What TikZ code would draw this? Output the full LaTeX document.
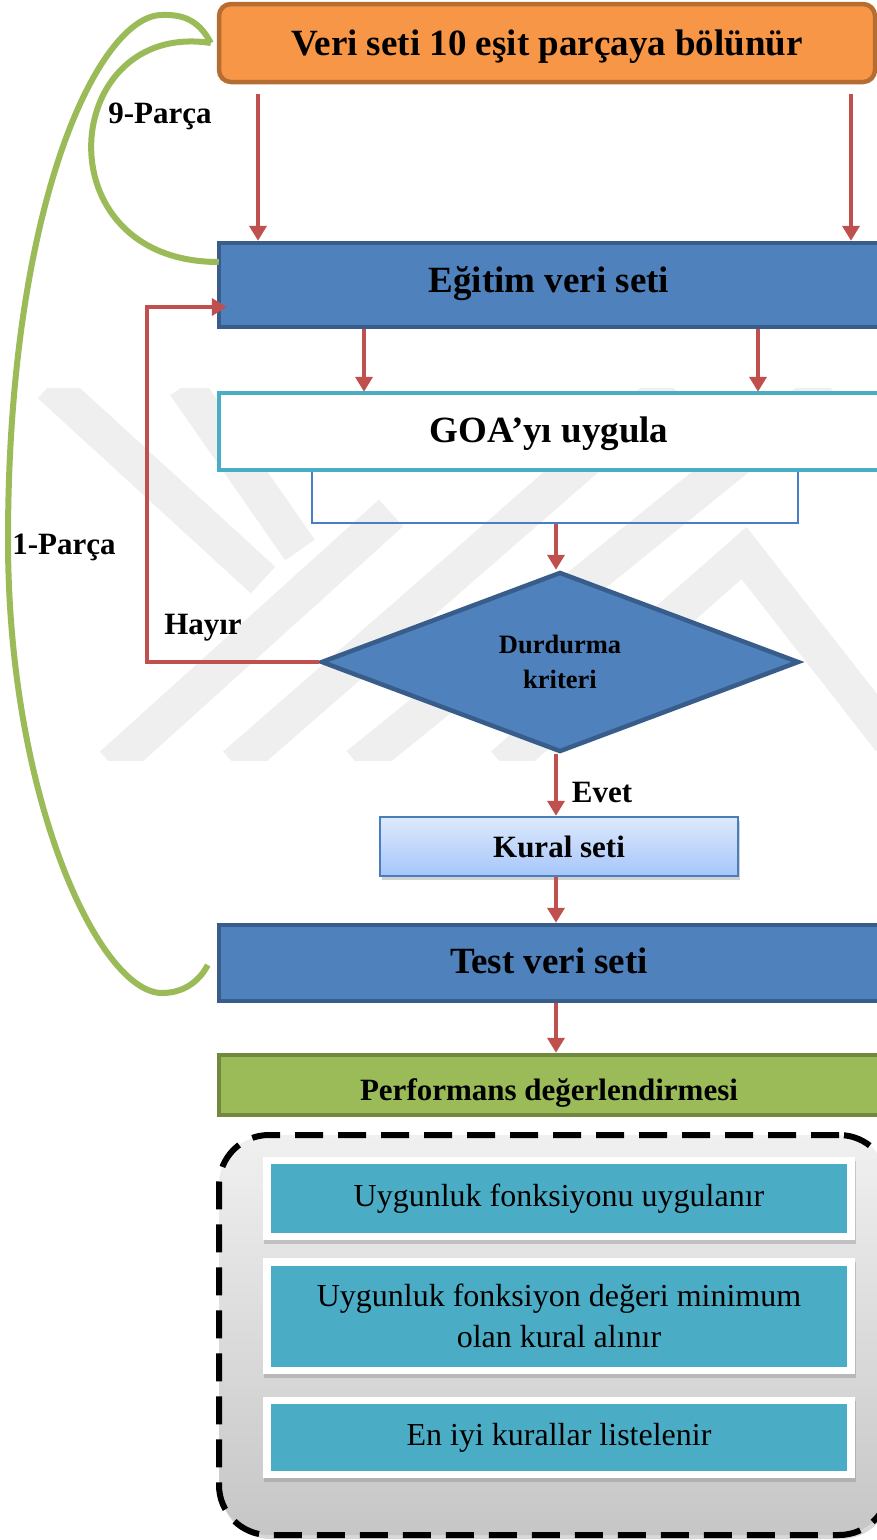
\documentclass[tikz,border=0pt]{standalone}
\usepackage{fontspec}
\setmainfont{Liberation Serif}
\usetikzlibrary{arrows.meta,shapes.geometric,shadows,calc}
\definecolor{orfill}{HTML}{F79646}
\definecolor{ordraw}{HTML}{B66D31}
\definecolor{blfill}{HTML}{4F81BD}
\definecolor{bldraw}{HTML}{385D8A}
\definecolor{grfill}{HTML}{9BBB59}
\definecolor{grdraw}{HTML}{71893F}
\definecolor{tealc}{HTML}{4BACC6}
\definecolor{arrc}{HTML}{C0504D}
\definecolor{wmark}{HTML}{EFEFEF}
\definecolor{kuraltop}{HTML}{DDE9FC}
\definecolor{kuralbot}{HTML}{A6C6FA}
\definecolor{kuraldraw}{HTML}{4A7EBB}
\definecolor{thinrect}{HTML}{4A7EC4}
\definecolor{conttop}{HTML}{F0F0F0}
\definecolor{contbot}{HTML}{C6C6C6}
\tikzset{
  bigtxt/.style={font=\fontsize{37}{40}\selectfont\bfseries,text depth=0pt},
  midtxt/.style={font=\fontsize{31}{36}\selectfont\bfseries},
  regtxt/.style={font=\fontsize{32}{41}\selectfont},
  orbox/.style={draw=ordraw,fill=orfill,line width=4.5pt,rounded corners=12pt,inner sep=0pt,bigtxt},
  blbox/.style={draw=bldraw,fill=blfill,line width=4.5pt,inner sep=0pt,bigtxt},
  goabox/.style={draw=tealc,fill=white,line width=4.5pt,inner sep=0pt,bigtxt},
  grbox/.style={draw=grdraw,fill=grfill,line width=4.5pt,inner sep=0pt,midtxt,text depth=0pt},
  kbox/.style={draw=kuraldraw,line width=2.5pt,top color=kuraltop,bottom color=kuralbot,inner sep=0pt,midtxt,text depth=0pt,
    drop shadow={shadow xshift=2pt,shadow yshift=-4pt,opacity=0.35}},
  dia/.style={diamond,draw=bldraw,fill=blfill,line width=4.5pt,inner sep=0pt,align=center,
    font=\fontsize{26.5}{35}\selectfont\bfseries},
  wbox/.style={fill=white,inner sep=0pt,drop shadow={shadow xshift=1pt,shadow yshift=-4pt,opacity=0.35}},
  tbox/.style={fill=tealc,inner sep=0pt,regtxt,align=center},
  arr/.style={draw=arrc,line width=4pt,-{Triangle[length=15pt,width=17pt]}},
  gline/.style={draw=grfill,line width=6pt},
  wm/.style={draw=wmark,line width=36pt},
  lbl/.style={midtxt,inner sep=0pt}
}
\begin{document}
\begin{tikzpicture}[x=1pt,y=-1pt]
\clip (0,0) rectangle (877,1540);
\fill[white] (0,0) rectangle (877,1540);
% watermark
\begin{scope}
\clip (0,388) rectangle (877,760);
\draw[wm] (50,385) -- (263,580);
\draw[wm] (185,385) -- (300,550);
\draw[wm] (112,765) -- (391,513);
\draw[wm] (235,765) -- (671,385);
\draw[wm] (358,765) -- (828,385);
\draw[wm] (503,765) -- (744,553) -- (890,740);
\end{scope}
% dashed container
\node[draw=black,line width=6pt,dash pattern=on 28pt off 15pt,rounded corners=50pt,
  top color=conttop,bottom color=contbot,minimum width=670pt,minimum height=400pt,
  drop shadow={shadow xshift=2pt,shadow yshift=-4pt,opacity=0.3}] (cont) at (554,1335) {};
% main boxes
\node[orbox,minimum width=656pt,minimum height=78pt,text height=25pt] (split) at (547,43) {Veri seti 10 eşit parçaya bölünür};
\node[blbox,minimum width=660pt,minimum height=84pt,text height=14pt] (egitim) at (549,285) {Eğitim veri seti};
\node[draw=thinrect,line width=1.5pt,minimum width=486pt,minimum height=53pt,inner sep=0pt] (thin) at (555,496.5) {};
\node[goabox,minimum width=660pt,minimum height=77pt,text height=21pt] (goa) at (549,431.5) {GOA’yı uygula};
\node[dia,minimum width=478pt,minimum height=180pt] (crit) at (560,662) {Durdurma\\kriteri};
\node[kbox,minimum width=358pt,minimum height=59pt,text height=21pt] (kural) at (559,846.5) {Kural seti};
\node[blbox,minimum width=660pt,minimum height=76pt,text height=20pt] (test) at (549,963) {Test veri seti};
\node[grbox,minimum width=660pt,minimum height=60pt,text height=30pt] (perf) at (549,1085) {Performans değerlendirmesi};
% inner list
\node[wbox,minimum width=592pt,minimum height=83pt] (w1) at (559,1198.5) {};
\node[tbox,minimum width=576pt,minimum height=69pt] (u1) at (559,1198.5) {Uygunluk fonksiyonu uygulanır};
\node[wbox,minimum width=592pt,minimum height=116pt] (w2) at (559,1316) {};
\node[tbox,minimum width=576pt,minimum height=101pt] (u2) at (559,1316) {Uygunluk fonksiyon değeri minimum\\olan kural alınır};
\node[wbox,minimum width=592pt,minimum height=81pt] (w3) at (559,1437.5) {};
\node[tbox,minimum width=576pt,minimum height=67pt] (u3) at (559,1437.5) {En iyi kurallar listelenir};
% red arrows
\draw[arr] ([yshift=-10pt]split.south -| 258,0) -- (egitim.north -| 258,0);
\draw[arr] ([yshift=-10pt]split.south -| 851,0) -- (egitim.north -| 851,0);
\draw[arr] (egitim.south -| 364,0) -- ([yshift=-1pt]goa.north -| 364,0);
\draw[arr] (egitim.south -| 758,0) -- ([yshift=-1pt]goa.north -| 758,0);
\draw[arr] (thin.south -| 556,0) -- (crit.north -| 556,0);
\draw[arr] (crit.west) -- ++(-172,0) |- ($(egitim.west)+(10,22)$);
\draw[arr] (crit.south -| 556,0) -- (kural.north -| 556,0);
\draw[arr] (kural.south -| 556,0) -- (test.north -| 556,0);
\draw[arr] (test.south -| 556,0) -- (perf.north -| 556,0);
% green loops
\draw[gline] ([xshift=-6pt]split.west) .. controls (60,20) and (40,262) .. ([xshift=2pt,yshift=23pt]egitim.west);
\draw[gline] ([xshift=-6pt]split.west) .. controls (200,22) and (185,14) .. (162,15)
  .. controls (100,15) and (8,200) .. (8,540)
  .. controls (8,800) and (100,993) .. (162,993)
  .. controls (185,993) and (200,980) .. ([xshift=-9pt,yshift=-2pt]test.west);
% labels
\node[lbl] (l9) at (160,116) {9-Parça};
\node[lbl] (l1) at (64,547) {1-Parça};
\node[lbl] (lh) at (203,628) {Hayır};
\node[lbl] (le) at (602,792) {Evet};
\end{tikzpicture}
\end{document}
